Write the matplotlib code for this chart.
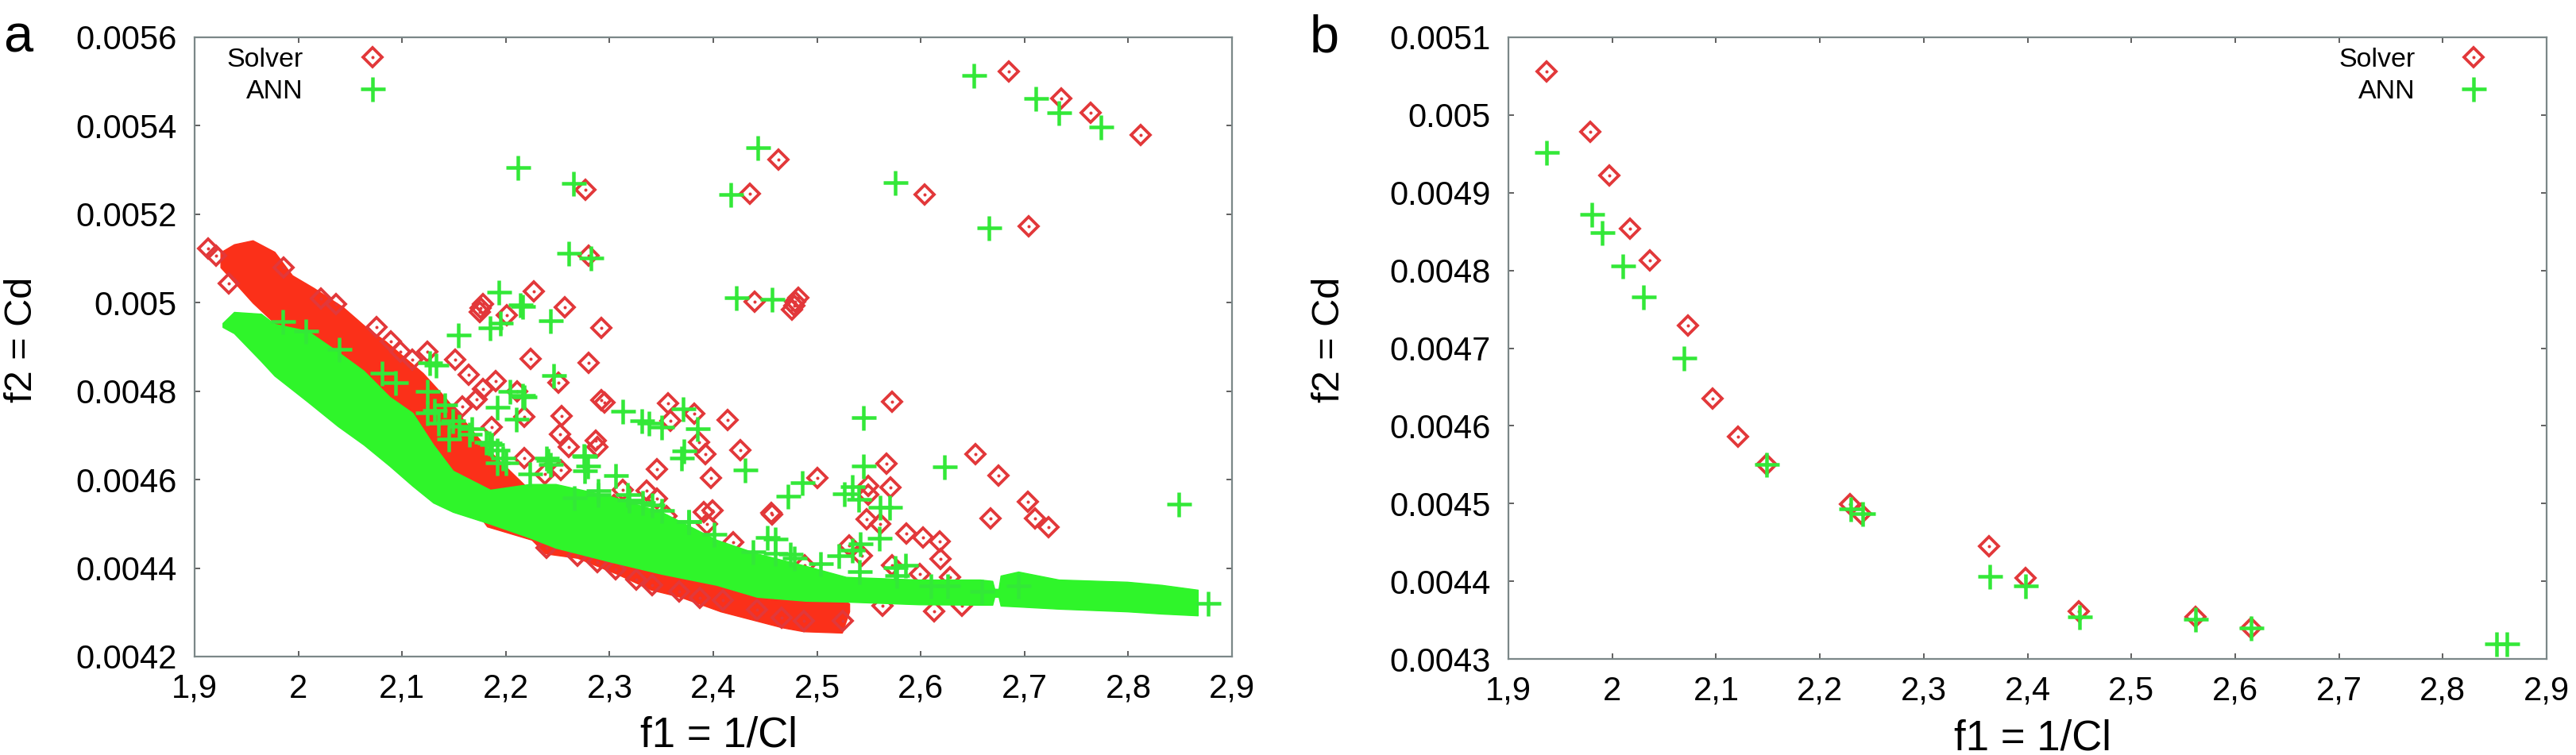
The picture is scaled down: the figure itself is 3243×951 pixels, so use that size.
import matplotlib
matplotlib.use("Agg")
import matplotlib.pyplot as plt
from matplotlib.legend_handler import HandlerTuple

plt.rcParams['font.family'] = ['Liberation Sans', 'DejaVu Sans']

# ---------- Panel a: individual points ----------
a_solver_x = [1.913,1.921,1.933,1.986,2.022,2.036,2.075,2.089,2.098,2.110,2.124,2.151,2.164,2.178,2.176,2.175,
              2.201,2.227,2.190,2.178,2.172,2.224,2.211,2.218,2.186,2.254,2.292,2.252,2.261,2.287,2.218,2.295,
              2.356,2.382,2.414,2.288,2.359,2.386,2.392,2.346,2.398,2.253,2.313,2.336,2.346,2.391,2.399,2.394,
              2.158,2.238,2.304,2.312,2.355,2.572,2.426,2.653,2.567,2.675,2.500,2.571,2.549,2.549,2.703,2.456,
              2.457,2.548,2.561,2.667,2.710,2.723,2.586,2.602,2.618,2.619,2.543,2.531,2.419,2.488,2.572,2.599,
              2.613,2.563,2.640,2.628,2.525,
              2.685,2.735,2.764,2.812,2.604,2.704,2.463,2.277,2.435,2.280,2.440,2.482,2.479,2.478,2.476,2.257,
              2.292,2.280,2.251,
              2.239,2.269,2.288,2.306,2.326,2.341,2.367,2.387,2.409,2.466,2.487,2.442]
a_solver_y = [.005123,.005107,.005044,.00508,.00501,.004997,.004944,.004913,.004889,.004871,.004889,.004871,.004838,.004997,.004988,.004979,
              .004972,.005026,.004823,.004805,.004781,.004873,.004799,.004742,.004719,.004743,.00478,.004703,.004674,.004688,.004649,.004775,
              .004772,.00475,.004734,.004673,.004733,.004685,.004658,.004624,.004604,.004622,.004577,.004575,.004557,.004527,.00453,.0045,
              .004766,.004613,.004542,.004524,.004518,.004776,.004667,.004658,.004637,.00461,.004604,.004582,.004586,.004566,.00455,.004524,
              .004521,.00451,.0045,.004512,.004512,.004493,.004479,.00447,.004461,.004421,.004428,.004452,.004458,.004407,.004407,.004386,
              .004302,.004314,.004314,.00438,.00428,
              .005522,.005461,.005429,.005379,.005245,.005173,.005324,.005255,.005246,.005107,.005002,.005011,.005002,.004993,.004984,.00499,
              .004943,.004864,.00482,
              .004446,.004428,.004413,.004398,.004374,.004362,.004347,.004332,.004327,.004288,.004281,.004306]

a_ann_x = [2.193,2.216,2.214,2.243,2.154,2.185,2.195,2.246,2.127,2.133,2.204,2.216,2.192,2.210,2.239,2.275,2.186,
           2.313,2.331,2.338,2.350,2.371,2.385,2.372,2.369,2.306,2.276,2.276,2.241,2.376,2.218,2.319,2.289,2.341,
           2.184,2.200,2.545,2.431,2.545,2.623,2.486,2.472,2.534,2.526,2.540,2.561,2.570,2.560,2.542,2.452,2.460,
           2.438,2.474,2.503,2.521,2.534,2.585,2.575,2.877,2.849,
           2.651,2.711,2.733,2.774,2.575,2.666,2.443,2.265,2.417,2.261,2.282,2.422,2.457,2.212,
           1.985,2.007,2.039,2.081,2.094,2.124,2.141,2.155,2.165,2.181,2.192,2.124,2.135,2.145,2.131,2.149,2.167,
           2.197,2.192,2.223,2.243,2.279,2.289,2.317,2.332,2.350,2.376,2.401,2.266,2.460,2.478,2.541,2.610,2.626,
           2.577,2.694,2.659]
a_ann_y = [.005023,.004992,.004996,.00496,.004927,.004943,.004954,.004835,.004865,.004859,.004799,.00479,.004763,.004736,.004649,.004655,.004679,
           .004754,.004733,.004727,.004718,.00476,.004716,.004664,.004648,.00461,.004652,.00462,.004643,.004506,.004787,.004554,.004575,.004542,
           .004683,.004638,.00474,.004622,.004631,.004629,.004593,.004563,.004585,.004568,.004555,.004537,.004537,.004468,.004455,.00447,.004466,
           .004437,.004431,.00441,.004428,.00444,.004407,.004401,.00432,.004545,
           .005513,.005462,.005429,.005397,.005271,.00517,.005351,.00527,.005245,.005112,.005101,.005011,.005007,.005306,
           .004957,.004936,.004895,.004841,.00482,.004799,.004769,.004721,.004703,.004685,.004667,.004751,.004728,.004692,.004757,.004733,.004715,
           .004649,.004638,.004613,.004634,.004631,.004566,.004566,.004548,.00453,.004505,.004476,.004559,.004434,.004423,.004392,.00436,.00436,
           .004383,.00436,.004347]

# ---------- Panel a: dense clouds, read as lower and upper outlines ----------
solver_band_x = [1.925,1.938,1.956,1.977,1.994,2.015,2.043,2.066,2.084,2.120,2.141,2.182,2.225,2.238,2.269,2.307,2.340,2.368,2.407,2.466,2.487,2.524,2.531]
solver_band_hi = [.005114,.005132,.005141,.005115,.005062,.005033,.00499,.004943,.004913,.004841,.004787,.00467,.004572,.004563,.004536,.004464,.004428,.004401,.004374,.004347,.004338,.004329,.00432]
solver_band_lo = [.00508,.005047,.005,.004954,.004913,.004877,.004823,.004769,.004733,.004679,.004625,.004494,.004464,.004433,.004423,.004387,.004351,.004335,.004302,.004266,.004257,.004254,.004302]

ann_band_x = [1.927,1.938,1.964,1.977,2.009,2.038,2.063,2.088,2.110,2.130,2.149,2.185,2.223,2.248,2.300,2.350,2.403,2.442,2.489,2.528,2.598,2.657,2.669,2.671,2.675,2.677,2.694,2.733,2.799,2.832,2.867]
ann_band_hi = [.004954,.004979,.004975,.004952,.004936,.004889,.004846,.004787,.004751,.004679,.00462,.004577,.00459,.00459,.004563,.004527,.004464,.004433,.004405,.00438,.004374,.004374,.004371,.004353,.004353,.004383,.004392,.004374,.004369,.004362,.004351]
ann_band_lo = [.004945,.004931,.004868,.004835,.004776,.004721,.004679,.004631,.004586,.004548,.004527,.0045,.004469,.004446,.004415,.004387,.004362,.004335,.004326,.004324,.004318,.004317,.004317,.004335,.004335,.004315,.004313,.004308,.004302,.004297,.004293]

# ---------- Panel b ----------
b_solver_x = [1.937,1.979,1.997,2.017,2.036,2.073,2.097,2.121,2.149,2.229,2.240,2.363,2.398,2.449,2.562,2.615]
b_solver_y = [.005056,.004978,.004922,.004854,.004813,.004729,.004635,.004586,.00455,.004499,.004487,.004445,.004404,.004361,.004354,.00434]
b_ann_x = [1.937,1.980,1.990,2.010,2.030,2.069,2.149,2.230,2.241,2.364,2.398,2.450,2.562,2.615,2.852,2.862]
b_ann_y = [.004952,.004872,.004849,.004806,.004766,.004687,.00455,.004493,.004487,.004406,.004394,.004354,.004351,.00434,.004319,.004319]

x_ticks = [1.9,2.0,2.1,2.2,2.3,2.4,2.5,2.6,2.7,2.8,2.9]
x_ticklabels = ['1,9','2','2,1','2,2','2,3','2,4','2,5','2,6','2,7','2,8','2,9']
a_yticks = [.0042,.0044,.0046,.0048,.005,.0052,.0054,.0056]
a_yticklabels = ['0.0042','0.0044','0.0046','0.0048','0.005','0.0052','0.0054','0.0056']
b_yticks = [.0043,.0044,.0045,.0046,.0047,.0048,.0049,.005,.0051]
b_yticklabels = ['0.0043','0.0044','0.0045','0.0046','0.0047','0.0048','0.0049','0.005','0.0051']

RED = '#e2383a'
BAND_RED = '#fb3019'
GREEN = '#33e838'
BAND_GREEN = '#2ff52a'
SPINE = '#7b8788'
W, H = 3243, 951
px = 72 / 100

fig = plt.figure(figsize=(W / 100, H / 100), dpi=100, facecolor='white')
ax_a = fig.add_axes([245 / W, 1 - 827 / H, 1306 / W, 780 / H])
ax_b = fig.add_axes([1899 / W, 1 - 830 / H, 1307 / W, 783 / H])


def solver(ax, x, y):
    d, = ax.plot(x, y, ls='none', marker='D', ms=16.5 * px, mfc='none', mec=RED, mew=3.8 * px, zorder=3)
    c, = ax.plot(x, y, ls='none', marker='o', ms=4 * px, mfc=RED, mec='none', zorder=3)
    return d, c


def ann(ax, x, y):
    p, = ax.plot(x, y, ls='none', marker='+', ms=31 * px, mec=GREEN, mew=4.5 * px, zorder=6)
    return p


ax_a.fill_between(solver_band_x, solver_band_lo, solver_band_hi, color=BAND_RED, lw=1, zorder=2)
ha = solver(ax_a, a_solver_x, a_solver_y)
ax_a.fill_between(ann_band_x, ann_band_lo, ann_band_hi, color=BAND_GREEN, lw=1, zorder=5)
pa = ann(ax_a, a_ann_x, a_ann_y)

hb = solver(ax_b, b_solver_x, b_solver_y)
pb = ann(ax_b, b_ann_x, b_ann_y)

for ax, yt, yl, ylim, h, p, lkw in (
    (ax_a, a_yticks, a_yticklabels, (.0042, .0056), ha, pa,
     dict(loc='upper left', bbox_to_anchor=(0.031, 0.983), handletextpad=1.8)),
    (ax_b, b_yticks, b_yticklabels, (.0043, .0051), hb, pb,
     dict(loc='upper right', bbox_to_anchor=(0.949, 0.983), handletextpad=1.4)),
):
    ax.set_xlim(1.9, 2.9)
    ax.set_ylim(*ylim)
    ax.set_xticks(x_ticks, x_ticklabels)
    ax.set_yticks(yt, yl)
    ax.tick_params(direction='in', top=True, right=True, length=5, width=1.2,
                   color='#444444', labelsize=30, pad=16, labelcolor='black')
    ax.tick_params(axis='x', pad=15)
    for s in ax.spines.values():
        s.set_color(SPINE)
        s.set_linewidth(1.6)
    ax.set_xlabel('f1 = 1/Cl', fontsize=38)
    ax.xaxis.set_label_coords(0.505, -0.096)
    ax.legend([h, p], ['Solver', 'ANN'], handler_map={tuple: HandlerTuple(ndivide=1, pad=0)},
              markerfirst=False, frameon=False, fontsize=24.5, borderpad=0, borderaxespad=0,
              handlelength=1.5, labelspacing=0.25, **lkw)

fig.text(27 / W, 1 - 428 / H, 'f2 = Cd', rotation=90, fontsize=35, ha='center', va='center')
fig.text(1673 / W, 1 - 428 / H, 'f2 = Cd', rotation=90, fontsize=35, ha='center', va='center')
fig.text(4 / W, 1 - 65 / H, 'a', fontsize=48, ha='left', va='baseline')
fig.text(1649 / W, 1 - 65 / H, 'b', fontsize=48, ha='left', va='baseline')

fig.savefig('out.png', dpi=100, facecolor='white')
